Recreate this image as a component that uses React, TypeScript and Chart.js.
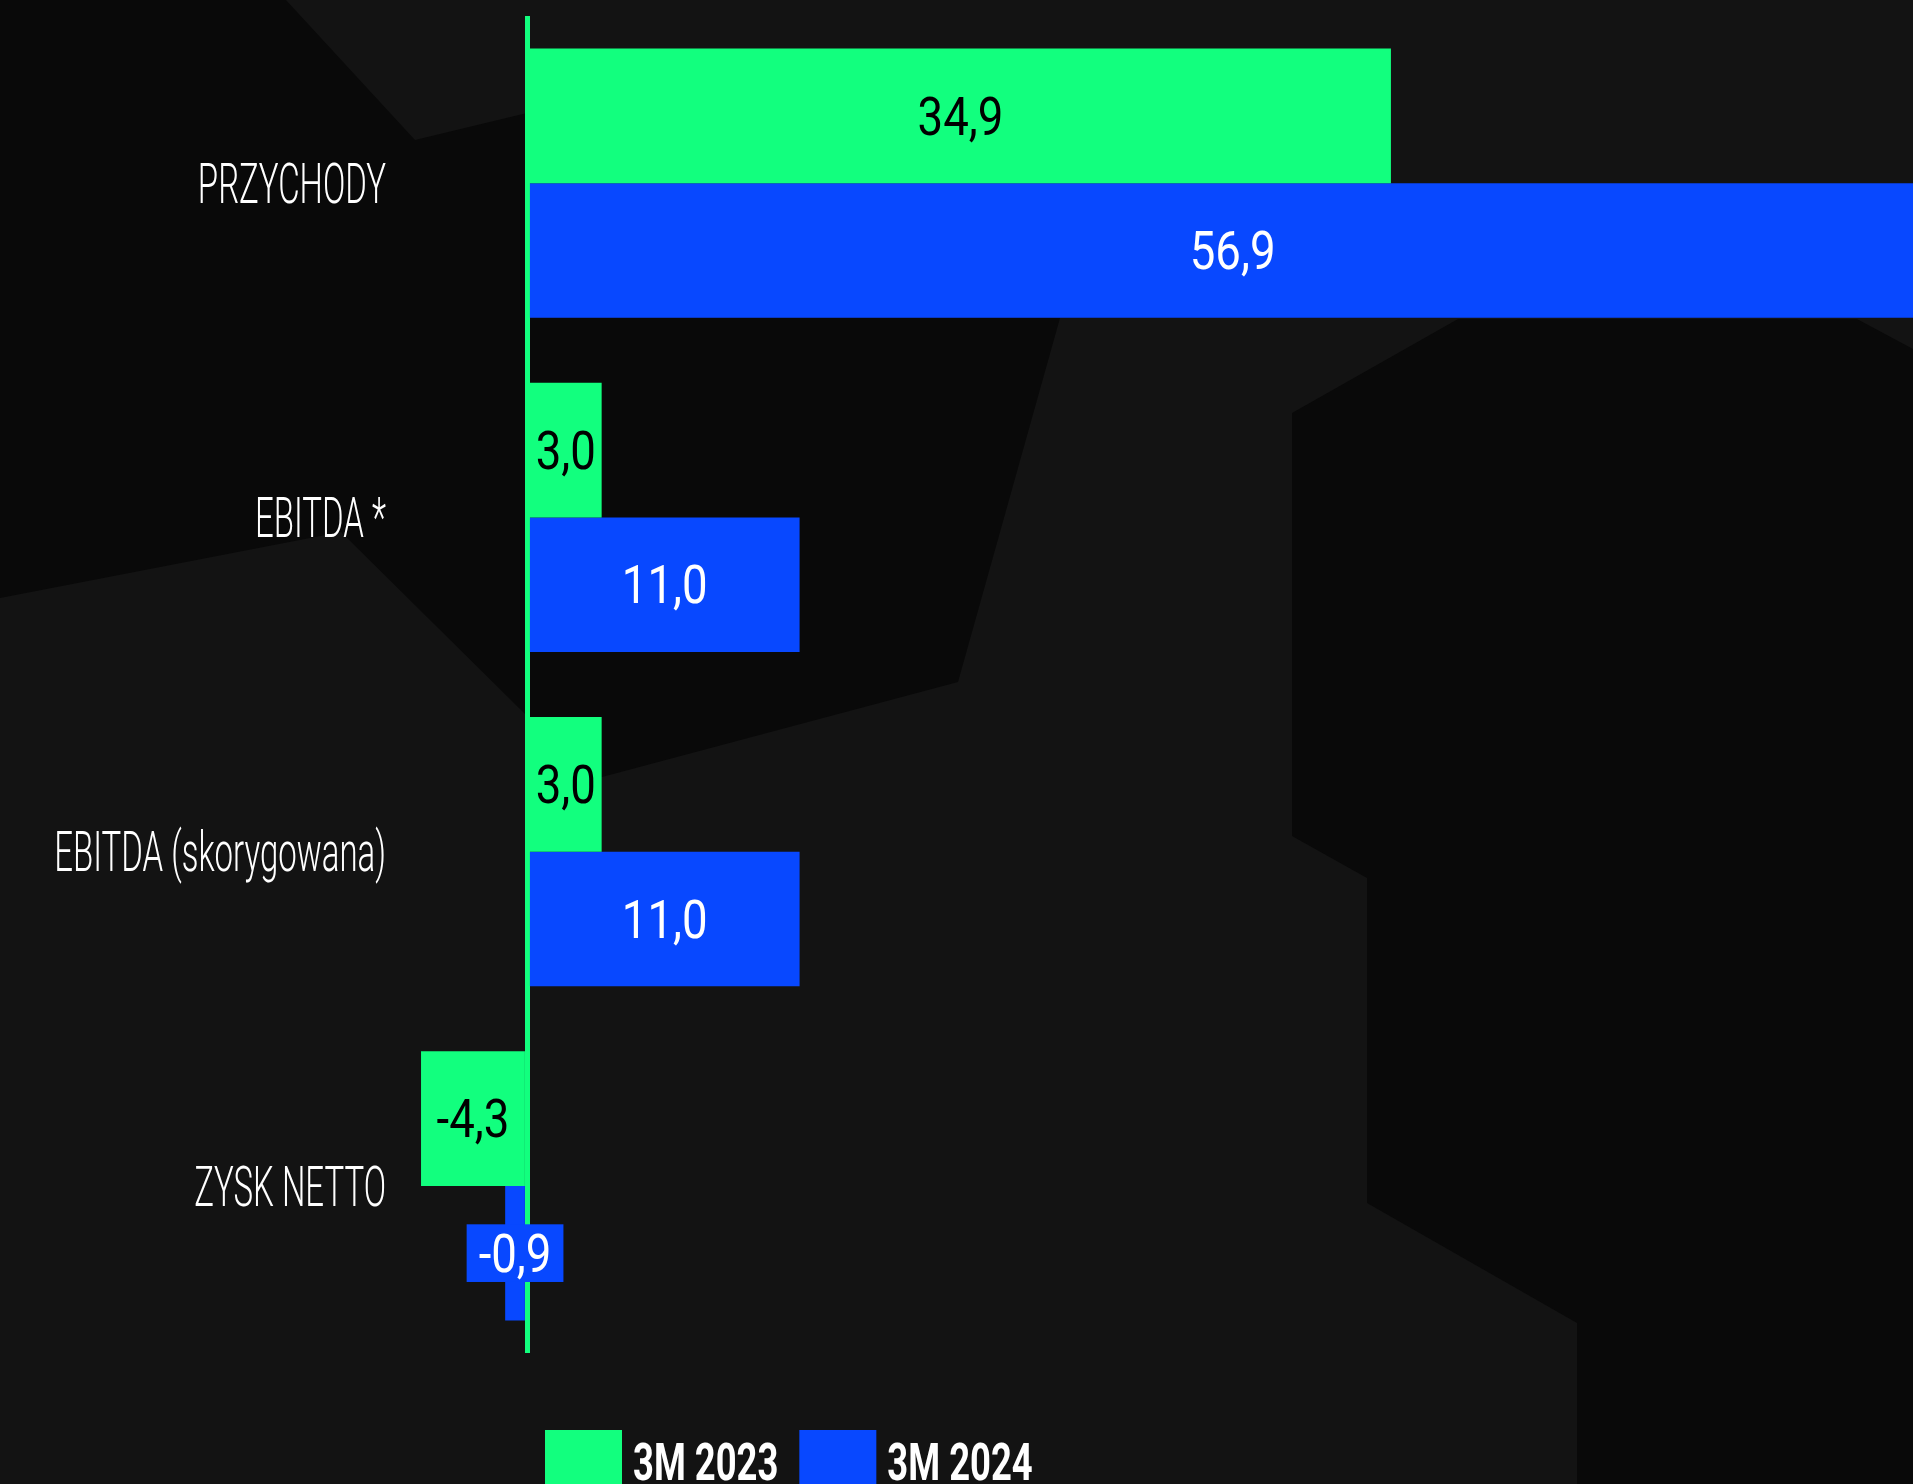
import React, { useEffect, useRef } from 'react';
import { Chart, registerables, CategoryScale } from 'chart.js';

Chart.register(...registerables);

// ---------- data ----------
const categories = ['PRZYCHODY', 'EBITDA *', 'EBITDA (skorygowana)', 'ZYSK NETTO'];
const values2023 = [34.9, 3.0, 3.0, -4.3];
const values2024 = [56.9, 11.0, 11.0, -0.9];
const seriesNames = ['3M 2023', '3M 2024'];
const axisMin = -5.15;
const axisMax = 56;

// ---------- style ----------
const GREEN = '#12ff7e';
const BLUE = '#0848ff';
const BG_LIGHT = '#131313';
const BG_DARK = '#090909';
const FONT = 'Roboto, "Noto Sans", sans-serif';
const CAT_CONDENSE = 0.6;
const CAT_SHIFT_Y = 6;
const VAL_CONDENSE = 0.86;
const LEG_CONDENSE = 0.7;

class CondensedCategoryScale extends CategoryScale {
  static id = 'condensedCategory';
  static defaults = (CategoryScale as any).defaults;
  _computeLabelArea() {
    return undefined;
  }
  drawLabels(chartArea: any) {
    const ctx = (this as any).ctx as CanvasRenderingContext2D;
    const pivot = (this as any).right - ((this as any).options.ticks.padding || 0);
    ctx.save();
    ctx.translate(pivot, CAT_SHIFT_Y);
    ctx.scale(CAT_CONDENSE, 1);
    ctx.translate(-pivot, 0);
    super.drawLabels(chartArea);
    ctx.restore();
  }
}
Chart.register(CondensedCategoryScale as any);

const fmt = (v: number) => v.toFixed(1).replace('.', ',');

const backgroundPlugin = {
  id: 'bgShapes',
  beforeDraw(chart: any) {
    const ctx = chart.ctx as CanvasRenderingContext2D;
    const w = chart.width, h = chart.height;
    ctx.save();
    ctx.fillStyle = BG_LIGHT;
    ctx.fillRect(0, 0, w, h);
    ctx.fillStyle = BG_DARK;
    const polys = [
      [[0, 0], [286, 0], [415, 140], [527, 113], [527, 318], [1060, 318], [958, 682], [527, 797], [525, 714], [341, 532], [0, 598]],
      [[1292, 413], [1458, 319], [1857, 319], [1913, 349], [1913, 1484], [1577, 1484], [1577, 1323], [1367, 1203], [1367, 878], [1292, 836]],
    ];
    for (const p of polys) {
      ctx.beginPath();
      p.forEach(([x, y], i) => (i ? ctx.lineTo(x, y) : ctx.moveTo(x, y)));
      ctx.closePath();
      ctx.fill();
    }
    ctx.restore();
  },
};

const valueLabelPlugin = {
  id: 'valueLabels',
  afterDatasetsDraw(chart: any) {
    const ctx = chart.ctx as CanvasRenderingContext2D;
    const size = 53;
    const capH = size * 0.711;
    ctx.save();
    ctx.font = `400 ${size}px ${FONT}`;
    chart.data.datasets.forEach((ds: any, di: number) => {
      const meta = chart.getDatasetMeta(di);
      meta.data.forEach((bar: any, i: number) => {
        const v = ds.data[i];
        const text = fmt(v);
        const { x, y, base } = bar.getProps(['x', 'y', 'base'], true);
        const cx = (x + base) / 2;
        const tw = ctx.measureText(text).width * VAL_CONDENSE;
        const barW = Math.abs(x - base);
        if (barW < tw) {
          const padX = 12, padY = 10;
          ctx.fillStyle = ds.backgroundColor;
          ctx.fillRect(cx - tw / 2 - padX, y - capH / 2 - padY, tw + 2 * padX, capH + 2 * padY);
        }
        ctx.fillStyle = di === 0 ? '#000000' : '#ffffff';
        ctx.save();
        ctx.translate(cx, y + capH / 2);
        ctx.scale(VAL_CONDENSE, 1);
        ctx.textAlign = 'center';
        ctx.textBaseline = 'alphabetic';
        ctx.fillText(text, 0, 0);
        ctx.restore();
      });
    });
    ctx.restore();
  },
};

const legendPlugin = {
  id: 'customLegend',
  afterDraw(chart: any) {
    const ctx = chart.ctx as CanvasRenderingContext2D;
    const size = 52;
    let xPos = 545;
    const boxTop = 1430;
    const baseline = 1480;
    ctx.save();
    ctx.font = `700 ${size}px ${FONT}`;
    chart.data.datasets.forEach((ds: any) => {
      ctx.fillStyle = ds.backgroundColor;
      ctx.fillRect(xPos, boxTop, 77, 70);
      xPos += 77 + 11;
      const tw = ctx.measureText(ds.label).width * LEG_CONDENSE;
      ctx.fillStyle = '#ffffff';
      ctx.save();
      ctx.translate(xPos, baseline);
      ctx.scale(LEG_CONDENSE, 1);
      ctx.textAlign = 'left';
      ctx.textBaseline = 'alphabetic';
      ctx.fillText(ds.label, 0, 0);
      ctx.restore();
      xPos += tw + 21;
    });
    ctx.restore();
  },
};

export default function App() {
  const ref = useRef<HTMLCanvasElement | null>(null);

  useEffect(() => {
    document.body.style.margin = '0';
    document.body.style.background = BG_LIGHT;
    const canvas = ref.current;
    if (!canvas) return;
    const chart = new Chart(canvas, {
      type: 'bar',
      data: {
        labels: categories,
        datasets: [
          { label: seriesNames[0], data: values2023, backgroundColor: GREEN, borderWidth: 0 },
          { label: seriesNames[1], data: values2024, backgroundColor: BLUE, borderWidth: 0 },
        ],
      },
      options: {
        indexAxis: 'y',
        animation: false,
        responsive: false,
        devicePixelRatio: 1,
        layout: { padding: { top: 16, bottom: 131, left: 0, right: 0 } },
        datasets: { bar: { categoryPercentage: 0.805, barPercentage: 1.0 } },
        plugins: {
          legend: { display: false },
          tooltip: { enabled: false },
          title: { display: false },
        },
        scales: {
          x: {
            type: 'linear',
            min: axisMin,
            max: axisMax,
            z: 1,
            ticks: { display: false, stepSize: 10 },
            border: { display: false },
            grid: {
              drawTicks: false,
              lineWidth: 5,
              color: (c: any) => (c.tick && c.tick.value === 0 ? GREEN : 'rgba(0,0,0,0)'),
            },
            afterFit: (s: any) => { s.height = 0; s.paddingLeft = 0; s.paddingRight = 0; },
          },
          y: {
            type: 'condensedCategory' as any,
            position: 'left',
            grid: { display: false, drawTicks: false },
            border: { display: false },
            ticks: {
              padding: 14,
              color: '#ffffff',
              font: { family: FONT, size: 55, weight: '300' as any },
              autoSkip: false,
            },
            afterFit: (s: any) => { s.width = 400; s.paddingTop = 0; s.paddingBottom = 0; },
          },
        },
      },
      plugins: [backgroundPlugin, valueLabelPlugin, legendPlugin],
    });
    return () => chart.destroy();
  }, []);

  return (
    <div style={{ width: 1913, height: 1484, overflow: 'hidden' }}>
      <canvas ref={ref} width={1913} height={1484} style={{ display: 'block' }} />
    </div>
  );
}
